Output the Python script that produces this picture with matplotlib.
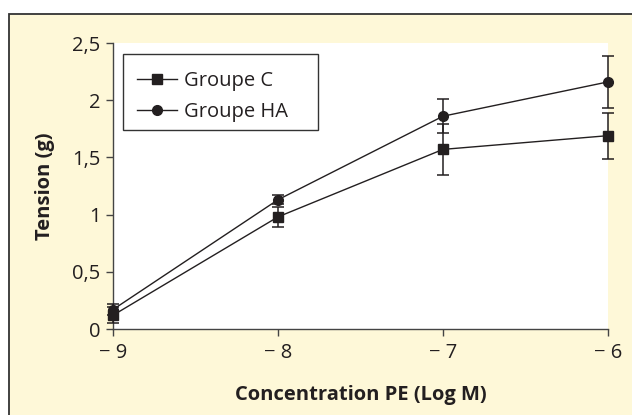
import matplotlib
matplotlib.use("Agg")
import matplotlib.pyplot as plt
from matplotlib.patches import Rectangle
from matplotlib.lines import Line2D

plt.rcParams['font.family'] = ['Open Sans', 'DejaVu Sans']

x_vals = [-9, -8, -7, -6]
x_labels = ["\u2212 9", "\u2212 8", "\u2212 7", "\u2212 6"]
groupe_c = [0.12, 0.98, 1.57, 1.69]
groupe_c_err = [0.07, 0.09, 0.22, 0.20]
groupe_ha = [0.17, 1.13, 1.86, 2.16]
groupe_ha_err = [0.05, 0.04, 0.15, 0.23]
y_ticks = [0, 0.5, 1, 1.5, 2, 2.5]
y_labels = ["0", "0,5", "1", "1,5", "2", "2,5"]

ink = '#231f20'
cream = '#FEF8D8'
fs = 14.5

fig = plt.figure(figsize=(6.32, 4.15), dpi=100)
fig.patch.set_facecolor('white')
fig.patches.append(Rectangle((9/632, -0.1), 1.2, 0.966 + 0.1,
                             transform=fig.transFigure, facecolor=cream,
                             edgecolor='#333333', linewidth=1.3, zorder=-5))

ax_w, ax_h = 608 - 113, 329 - 43
ax = fig.add_axes([113/632, 1 - 329/415, ax_w/632, ax_h/415])
ax.set_zorder(2)
ax.set_facecolor('white')

ax.errorbar(x_vals, groupe_c, yerr=groupe_c_err, color=ink, marker='s',
            markersize=7, linewidth=1.0, elinewidth=1.1, capsize=4.5,
            capthick=1.1, clip_on=False, zorder=3)
ax.errorbar(x_vals, groupe_ha, yerr=groupe_ha_err, color=ink, marker='o',
            markersize=7, linewidth=1.0, elinewidth=1.1, capsize=4.5,
            capthick=1.1, clip_on=False, zorder=3)

ax.set_xlim(-9, -6)
ax.set_ylim(0, 2.5)
ax.set_xticks(x_vals)
ax.set_xticklabels(x_labels)
ax.set_yticks(y_ticks)
ax.set_yticklabels(y_labels)

for s in ['top', 'right']:
    ax.spines[s].set_visible(False)
for s in ['left', 'bottom']:
    ax.spines[s].set_color('#444444')
    ax.spines[s].set_linewidth(1.0)
ax.tick_params(axis='both', direction='out', length=5, width=1.0,
               colors='#444444', labelcolor=ink, labelsize=fs)
ax.tick_params(axis='x', pad=5)
ax.tick_params(axis='y', pad=4)

ax.set_xlabel('Concentration PE (Log M)', fontsize=fs, fontweight='bold',
              color=ink, labelpad=16)
ax.set_ylabel('Tension (g)', fontsize=fs, fontweight='bold', color=ink,
              labelpad=12)

# legend box
ax.add_patch(Rectangle((10/ax_w, 1 - (130 - 43)/ax_h), 195/ax_w, 76/ax_h,
                       transform=ax.transAxes, facecolor='white',
                       edgecolor='#333333', linewidth=1.0, zorder=4,
                       clip_on=False))

handles = [Line2D([], [], color=ink, marker='s', markersize=7, linewidth=1.0),
           Line2D([], [], color=ink, marker='o', markersize=7, linewidth=1.0)]
leg = ax.legend(handles, ['Groupe C', 'Groupe HA'], loc='upper left',
                bbox_to_anchor=(15/ax_w, 1 - 19/ax_h),
                frameon=False, fontsize=fs,
                handlelength=2.0, borderpad=0.45, labelspacing=0.55,
                handletextpad=0.35, borderaxespad=0)
leg.set_zorder(5)
for t in leg.get_texts():
    t.set_color(ink)

fig.savefig('out.png', dpi=100)
